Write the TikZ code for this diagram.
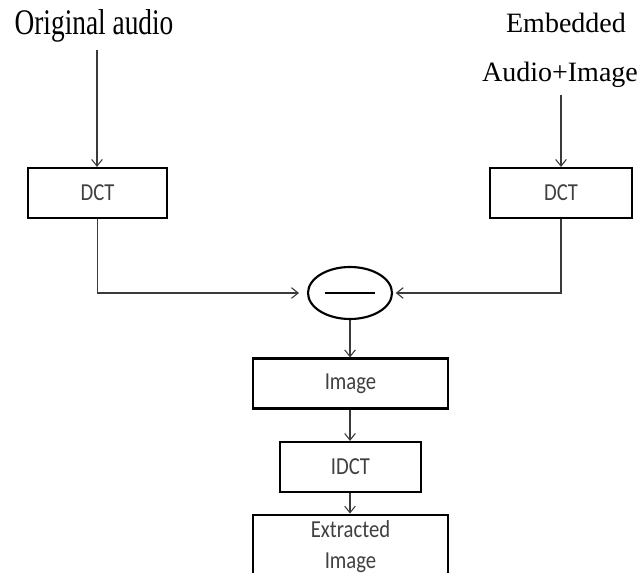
\documentclass[tikz,border=0pt]{standalone}
\usepackage{fontspec}
\setmainfont{Liberation Serif}
\newfontfamily\boxfont{Carlito}
\usetikzlibrary{arrows.meta,shapes.geometric}
\definecolor{linegray}{HTML}{3A3A3A}
\definecolor{textgray}{HTML}{404040}
\newcommand{\tallbox}[1]{\scalebox{1}[1.18]{#1}}
\tikzset{
  blk/.style={draw=black, line width=1.6pt, minimum height=37.5pt, inner sep=0pt,
    font=\boxfont\fontsize{15.5}{17}\selectfont, text=textgray, align=center},
  conn/.style={draw=linegray, line width=0.8pt, -{Straight Barb[length=5pt,width=8pt]}},
  lbl/.style={font=\fontsize{21}{24}\selectfont, inner sep=0pt}
}
\begin{document}
\begin{tikzpicture}[x=0.75pt,y=-0.75pt]
\useasboundingbox (0,0) rectangle (638,573);
\node[lbl, anchor=base] (orig) at (94,35) {\scalebox{0.76}[1]{\fontsize{27}{30}\selectfont Original audio}};
\node[lbl, anchor=base] (emb1) at (566,33) {Embedded};
\node[lbl, anchor=base] (emb2) at (560,82) {Audio+Image};
\coordinate (s1) at (97,50);
\coordinate (s2) at (561,95);
\node[blk, minimum width=104pt] (dct1) at (97.5,193) {\tallbox{DCT}};
\node[blk, minimum width=106.5pt] (dct2) at (561,193) {\tallbox{DCT}};
\node[draw=black, line width=1.6pt, ellipse, minimum width=63pt, minimum height=39pt, inner sep=0pt] (ell) at (350,293) {};
\draw[black, line width=1pt] ([xshift=-18.5pt]ell.center) -- ([xshift=19pt]ell.center);
\node[blk, minimum width=146pt] (img) at (350.5,383.5) {\tallbox{Image}};
\node[blk, minimum width=106pt] (idct) at (350.5,467) {\tallbox{IDCT}};
\node[blk, minimum width=146pt, minimum height=50pt] (ext) at (350.5,548) {};
\node[font=\boxfont\fontsize{15.5}{17}\selectfont, text=textgray, anchor=base, inner sep=0pt] (ext1) at (350.5,537) {\tallbox{Extracted}};
\node[font=\boxfont\fontsize{15.5}{17}\selectfont, text=textgray, anchor=base, inner sep=0pt] (ext2) at (350.5,568) {\tallbox{Image}};
\draw[conn] (s1) -- (dct1.north -| s1);
\draw[conn] (s2) -- (dct2.north -| s2);
\draw[conn, shorten >=6pt] (dct1.south) |- (ell.west);
\draw[conn, shorten >=2pt] (dct2.south) |- (ell.east);
\draw[conn] (ell.south) -- (img.north -| ell.south);
\draw[conn] (img.south -| ell.south) -- (idct.north -| ell.south);
\draw[conn] (idct.south -| ell.south) -- (ext.north -| ell.south);
\end{tikzpicture}
\end{document}
